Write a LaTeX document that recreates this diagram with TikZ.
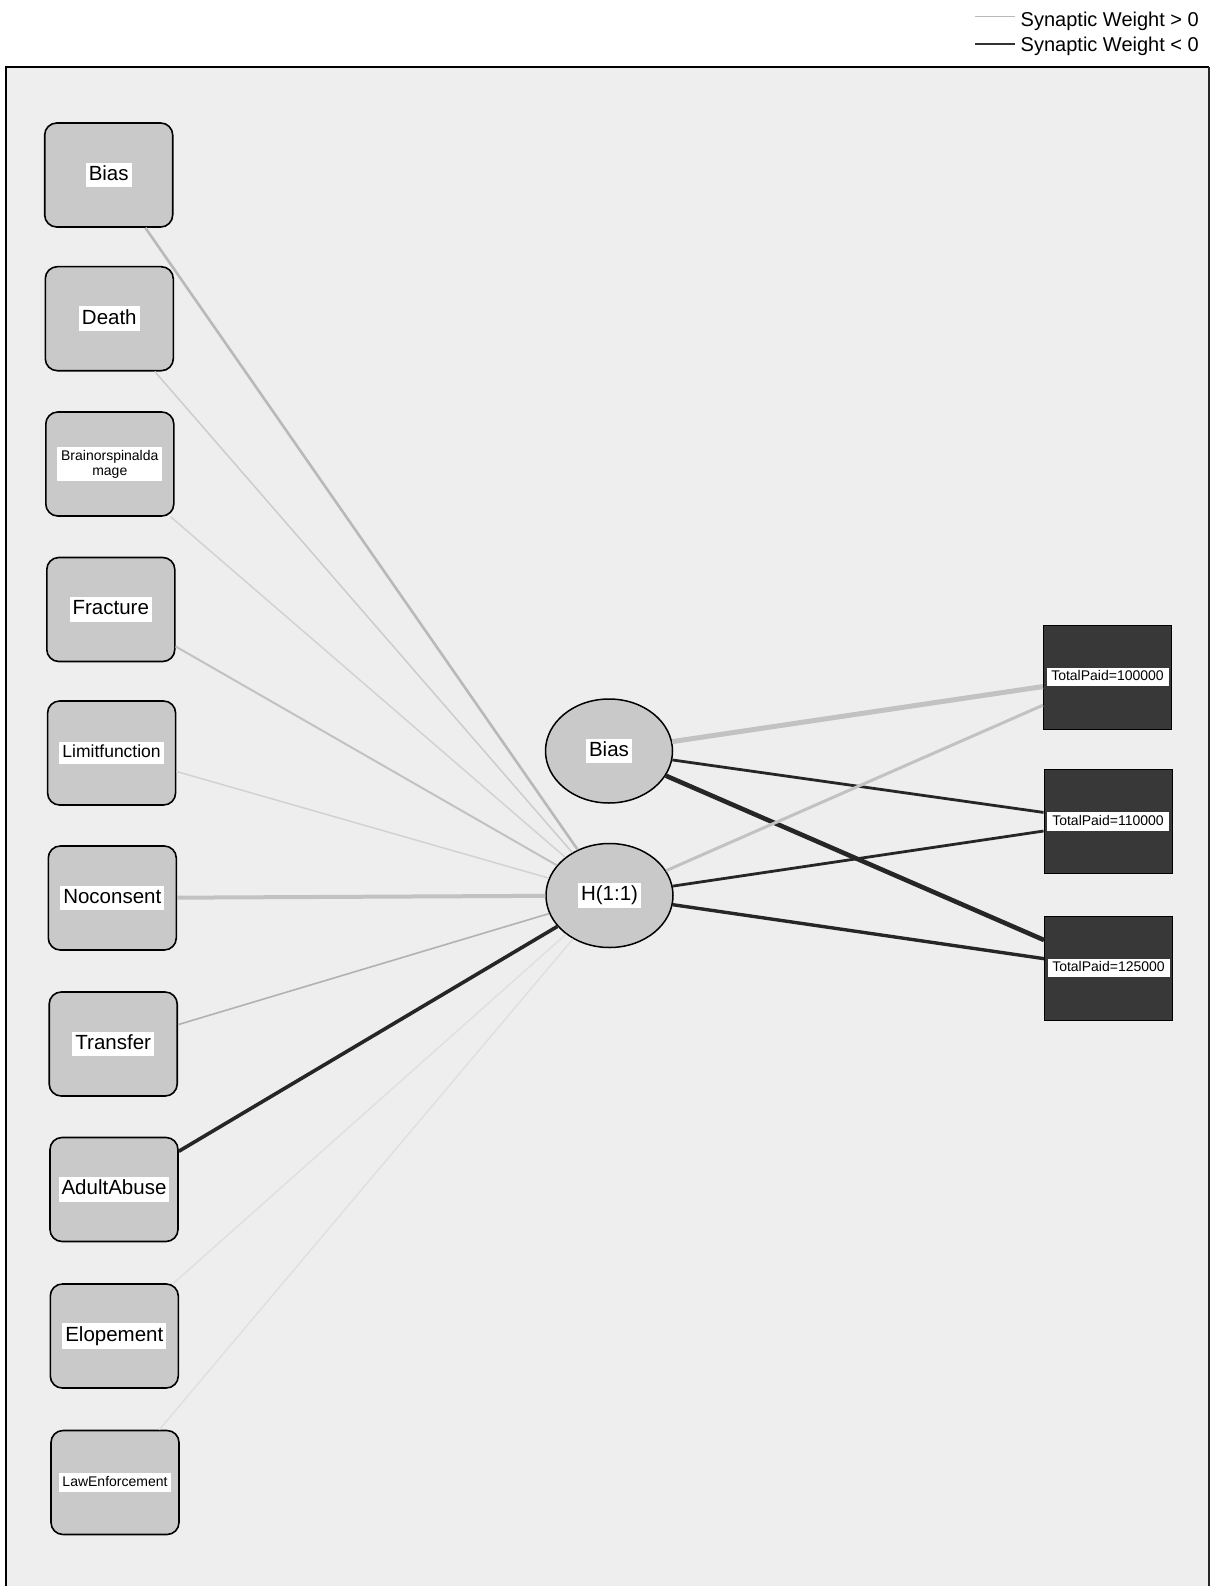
\documentclass[tikz,border=0pt]{standalone}
\usepackage{fontspec}
\setmainfont{Liberation Sans}
\usetikzlibrary{shapes.geometric}
\definecolor{bggray}{gray}{0.935}
\definecolor{boxgray}{gray}{0.79}
\definecolor{outgray}{gray}{0.22}
\definecolor{poslight}{gray}{0.76}
\definecolor{negdark}{gray}{0.15}
\setlength{\fboxsep}{3pt}
\newcommand{\mystrut}{\rule[-0.2em]{0pt}{0.92em}}
\newcommand{\wlab}[2]{\colorbox{white}{\fontsize{#1}{#1}\selectfont\mystrut #2}}
\begin{document}
\begin{tikzpicture}[x=1pt,y=-1pt,
  inbox/.style={draw=black, line width=1.6pt, rounded corners=12pt, fill=boxgray,
    minimum width=128pt, minimum height=104pt, inner sep=0pt},
  hid/.style={ellipse, draw=black, line width=1.5pt, fill=boxgray,
    minimum width=127pt, minimum height=104pt, inner sep=0pt},
  outbox/.style={draw=black, line width=1pt, fill=outgray,
    minimum width=128pt, minimum height=104pt, inner sep=0pt},
  poswt/.style={draw=poslight},
  negwt/.style={draw=negdark},
  leg/.style={anchor=base east, inner sep=0pt, font=\fontsize{20}{20}\selectfont}
]
\useasboundingbox (0,0) rectangle (1219,1586);
\clip (0,0) rectangle (1219,1586);
% frame
\fill[bggray] (6,67) rectangle (1209,1600);
\draw[line width=1.5pt] (6,1600) -- (6,67) -- (1209,67);
\draw[line width=2.5pt,draw=black!85] (1209,67) -- (1209,1600);

% legend
\node[leg] (l1) at (1199,27) {Synaptic Weight > 0};
\node[leg] (l2) at (1199,52) {Synaptic Weight < 0};
\coordinate (l1a) at (975,17);
\coordinate (l1b) at (1015,17);
\coordinate (l2a) at (975,44);
\coordinate (l2b) at (1015,44);
\draw[line width=1pt, draw=gray!55] (l1a) -- (l1b);
\draw[line width=2pt, draw=black!80] (l2a) -- (l2b);

% input layer
\node[inbox] (i1) at (108.7,175) {\wlab{20.5pt}{Bias}};
\node[inbox] (i2) at (109.3,318.7) {\wlab{20.5pt}{Death}};
\node[inbox] (i3) at (109.8,464) {\colorbox{white}{\parbox{99pt}{\centering\fontsize{14pt}{15pt}\selectfont Brainorspinalda\\mage}}};
\node[inbox] (i4) at (110.8,609.5) {\wlab{20.5pt}{Fracture}};
\node[inbox] (i5) at (111.6,753) {\wlab{17.5pt}{Limitfunction}};
\node[inbox] (i6) at (112.3,898) {\wlab{20.5pt}{Noconsent}};
\node[inbox] (i7) at (113.2,1044) {\wlab{20.5pt}{Transfer}};
\node[inbox] (i8) at (114,1189.5) {\wlab{20.5pt}{AdultAbuse}};
\node[inbox] (i9) at (114.3,1336) {\wlab{20.5pt}{Elopement}};
\node[inbox] (i10) at (115,1482.5) {\wlab{14pt}{LawEnforcement}};

% hidden layer
\node[hid] (hb) at (609,751) {\wlab{20.5pt}{Bias}};
\node[hid] (h1) at (609.5,895.5) {\wlab{20.5pt}{H(1:1)}};

% output layer
\node[outbox] (o1) at (1107.5,677) {\colorbox{white}{\makebox[116pt]{\fontsize{14pt}{14pt}\selectfont\mystrut TotalPaid=100000}}};
\node[outbox] (o2) at (1108,821.5) {\colorbox{white}{\makebox[116pt]{\fontsize{14pt}{14pt}\selectfont\mystrut TotalPaid=110000}}};
\node[outbox] (o3) at (1108.5,968) {\colorbox{white}{\makebox[116pt]{\fontsize{14pt}{14pt}\selectfont\mystrut TotalPaid=125000}}};

% input -> hidden
\draw[poswt, line width=2.6pt, draw=gray!55] (i1) -- (h1);
\draw[poswt, line width=1.5pt, draw=gray!40] (i2) -- (h1);
\draw[poswt, line width=1.5pt, draw=gray!35] (i3) -- (h1);
\draw[poswt, line width=2pt] (i4) -- (h1);
\draw[poswt, line width=1.5pt, draw=gray!35] (i5) -- (h1);
\draw[poswt, line width=4pt] (i6) -- (h1);
\draw[poswt, line width=1.6pt, draw=gray!60] (i7) -- (h1);
\draw[negwt, line width=3.6pt] (i8) -- (h1);
\draw[poswt, line width=1.4pt, draw=gray!25] (i9) -- (h1);
\draw[poswt, line width=1.4pt, draw=gray!25] (i10) -- (h1);

% hidden -> output
\draw[poswt, line width=5pt] (hb) -- (o1);
\draw[negwt, line width=2.8pt] (hb) -- (o2);
\draw[negwt, line width=4.6pt] (hb) -- (o3);
\draw[poswt, line width=3pt] (h1) -- (o1);
\draw[negwt, line width=2.8pt] (h1) -- (o2);
\draw[negwt, line width=3.4pt] (h1) -- (o3);
\end{tikzpicture}
\end{document}
